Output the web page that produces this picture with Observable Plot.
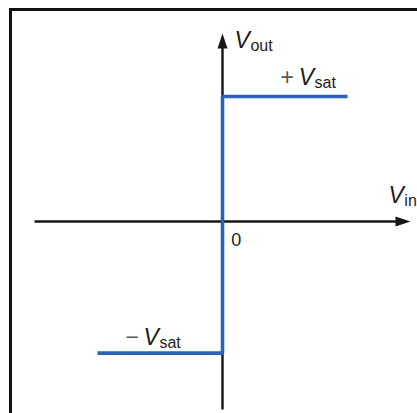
<!DOCTYPE html>
<html>
<head>
<meta charset="utf-8">
<script src="https://cdn.jsdelivr.net/npm/d3@7"></script>
<script src="https://cdn.jsdelivr.net/npm/@observablehq/plot@0.6"></script>
<style>
  html, body { margin: 0; padding: 0; background: #fff; }
  #wrap { position: relative; width: 417px; height: 413px; overflow: hidden; }
  #frame { position: absolute; left: 9px; top: 8px; right: -10px; bottom: -10px;
           border-left: 3px solid #111; border-top: 3px solid #111; pointer-events: none; }
  #chart { position: absolute; left: 0; top: 0; }
</style>
</head>
<body>
<div id="wrap"><div id="chart"></div><div id="frame"></div></div>
<script>
// Axis extents (normalized units)
const axisMin = -1;
const axisMax = 1;
const axisLineEnd = 0.955;

// Comparator transfer characteristic: Vin vs Vout
const transferVin = [-0.665, 0, 0, 0.665];
const transferVout = [-0.70, -0.70, 0.665, 0.665];

// Labels
const labelText = ["V_out", "+V_sat", "V_in", "−V_sat"];
const labelX = [0.064, 0.309, 0.883, -0.516];
const labelY = [0.962, 0.766, 0.138, -0.617];
const originText = ["0"];
const originX = [0.046];
const originY = [-0.098];

const transfer = transferVin.map((v, i) => ({vin: v, vout: transferVout[i]}));
const labels = labelText.map((t, i) => ({t, x: labelX[i], y: labelY[i]}));
const origin = originText.map((t, i) => ({t, x: originX[i], y: originY[i]}));

const axisLines = [
  {x1: axisMin, y1: 0, x2: axisLineEnd, y2: 0},
  {x1: 0, y1: axisMin, x2: 0, y2: axisLineEnd}
];
const axisHeads = [
  {x: axisMax, y: 0, rot: 90},
  {x: 0, y: axisMax, rot: 0}
];

const font = "Liberation Sans, Arial, Helvetica, sans-serif";

const chart = Plot.plot({
  width: 417,
  height: 413,
  margin: 0,
  style: {fontFamily: font, background: "transparent"},
  x: {domain: [axisMin, axisMax], range: [34, 410], axis: null},
  y: {domain: [axisMin, axisMax], range: [409, 33], axis: null},
  marks: [
    Plot.link(axisLines, {x1: "x1", y1: "y1", x2: "x2", y2: "y2", stroke: "#161616", strokeWidth: 2.4}),
    Plot.vector(axisHeads, {x: "x", y: "y", rotate: "rot", length: 15, r: 5, shape: "spike", anchor: "end", fill: "#161616", stroke: "none"}),
    Plot.line(transfer, {x: "vin", y: "vout", stroke: "#2b63b5", strokeWidth: 3.6, strokeLinejoin: "miter", strokeLinecap: "butt"}),
    Plot.text(labels, {x: "x", y: "y", text: "t", textAnchor: "start", fontSize: 23, fill: "#1c1c1c", fontFamily: font}),
    Plot.text(origin, {x: "x", y: "y", text: "t", textAnchor: "start", fontSize: 18, fill: "#1c1c1c", fontFamily: font})
  ]
});

// Turn "V_sub" labels into italic V with a subscript
d3.select(chart).selectAll("text").each(function() {
  const s = this.textContent;
  const m = s.match(/^([+−]?)V_(\w+)$/);
  if (!m) return;
  this.textContent = "";
  const sel = d3.select(this);
  if (m[1]) sel.append("tspan").attr("font-style", "normal").attr("fill", "#555").text(m[1] + "\u2009");
  sel.append("tspan").attr("font-style", "italic").text("V");
  sel.append("tspan").attr("font-size", 16).attr("dy", 3).attr("dx", 0.5).text(m[2]);
});

document.getElementById("chart").appendChild(chart);
</script>
</body>
</html>
